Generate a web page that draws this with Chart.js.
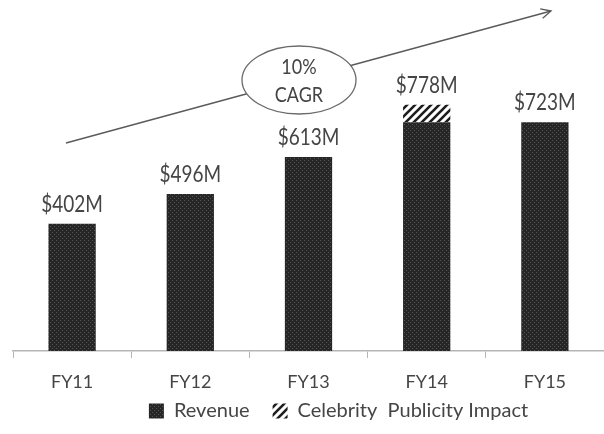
<!DOCTYPE html>
<html>
<head>
<meta charset="utf-8">
<script src="https://cdn.jsdelivr.net/npm/chart.js@4"></script>
<style>
  html, body { margin: 0; padding: 0; background: #fff; }
  #wrap { width: 604px; height: 434px; }
</style>
</head>
<body>
<div id="wrap"><canvas id="myChart" width="604" height="434"></canvas></div>
<script>
// data
var years = ['FY11', 'FY12', 'FY13', 'FY14', 'FY15'];
var revenue = [402, 496, 613, 723, 723];
var celebrity = [0, 0, 0, 55, 0];
var cagrText = ['10%', 'CAGR'];

var textColor = '#454545';

// dotted dark fill like the original
function dotPattern() {
  var c = document.createElement('canvas');
  c.width = 4; c.height = 4;
  var g = c.getContext('2d');
  g.fillStyle = '#262626';
  g.fillRect(0, 0, 4, 4);
  g.fillStyle = '#555';
  g.fillRect(0, 0, 1, 1);
  g.fillRect(2, 2, 1, 1);
  return g.createPattern(c, 'repeat');
}

// diagonal hatch
function hatchPattern() {
  var c = document.createElement('canvas');
  c.width = 8; c.height = 8;
  var g = c.getContext('2d');
  g.fillStyle = '#fff';
  g.fillRect(0, 0, 8, 8);
  g.strokeStyle = '#1e1e1e';
  g.lineWidth = 2.6;
  g.beginPath();
  g.moveTo(-2, 10); g.lineTo(10, -2);
  g.moveTo(-6, 6); g.lineTo(6, -6);
  g.moveTo(2, 14); g.lineTo(14, 2);
  g.stroke();
  return g.createPattern(c, 'repeat');
}

// text a bit taller than wide, like the source picture
function tallText(ctx, txt, x, y) {
  ctx.save();
  ctx.translate(x, y);
  ctx.scale(1, 1.18);
  ctx.fillText(txt, 0, 0);
  ctx.restore();
}

// $xxxM labels on top of each stack
var topLabels = {
  id: 'topLabels',
  afterDatasetsDraw: function (chart) {
    var ctx = chart.ctx;
    var y = chart.scales.y;
    ctx.save();
    ctx.font = '19px Lato';
    ctx.fillStyle = textColor;
    ctx.textAlign = 'center';
    ctx.textBaseline = 'alphabetic';
    var meta = chart.getDatasetMeta(0);
    for (var i = 0; i < years.length; i++) {
      var total = revenue[i] + celebrity[i];
      tallText(ctx, '$' + total + 'M', meta.data[i].x, y.getPixelForValue(total) - 12);
    }
    ctx.restore();
  }
};

// growth arrow with the CAGR bubble
var cagrArrow = {
  id: 'cagrArrow',
  afterDraw: function (chart) {
    var ctx = chart.ctx;
    var a = chart.chartArea;
    var x1 = a.left + 53, y1 = a.top + 140;
    var x2 = a.left + 538, y2 = a.top + 8;
    ctx.save();
    ctx.strokeStyle = '#5a5a5a';
    ctx.lineWidth = 1.3;
    ctx.beginPath();
    ctx.moveTo(x1, y1);
    ctx.lineTo(x2, y2);
    ctx.stroke();
    var ang = Math.atan2(y2 - y1, x2 - x1);
    ctx.beginPath();
    ctx.moveTo(x2 - 11 * Math.cos(ang - 0.45), y2 - 11 * Math.sin(ang - 0.45));
    ctx.lineTo(x2, y2);
    ctx.lineTo(x2 - 11 * Math.cos(ang + 0.45), y2 - 11 * Math.sin(ang + 0.45));
    ctx.stroke();

    var cx = a.left + 286, cy = a.top + 77;
    ctx.beginPath();
    ctx.ellipse(cx, cy, 57, 34, 0, 0, Math.PI * 2);
    ctx.fillStyle = '#fff';
    ctx.fill();
    ctx.strokeStyle = '#6a6a6a';
    ctx.stroke();
    ctx.font = '18px Lato';
    ctx.fillStyle = textColor;
    ctx.textAlign = 'center';
    ctx.textBaseline = 'middle';
    tallText(ctx, cagrText[0], cx, cy - 13);
    tallText(ctx, cagrText[1], cx, cy + 15);
    ctx.restore();
  }
};

// legend sits a little right of centre in the original
var legendShift = {
  id: 'legendShift',
  afterLayout: function (chart) {
    chart.legend.left += 26;
    chart.legend.right += 26;
  }
};

var ctx = document.getElementById('myChart').getContext('2d');
var myChart = new Chart(ctx, {
  type: 'bar',
  data: {
    labels: years,
    datasets: [{
      label: 'Revenue',
      data: revenue,
      backgroundColor: dotPattern(),
      borderWidth: 0
    }, {
      label: 'Celebrity  Publicity Impact',
      data: celebrity,
      backgroundColor: hatchPattern(),
      borderWidth: 0
    }]
  },
  options: {
    responsive: false,
    animation: false,
    layout: { padding: { top: 3, left: 13, right: -8, bottom: 3 } },
    datasets: { bar: { categoryPercentage: 1, barPercentage: 0.4 } },
    plugins: {
      tooltip: { enabled: false },
      legend: {
        position: 'bottom',
        labels: {
          font: { family: 'Lato', size: 20 },
          color: textColor,
          boxWidth: 15,
          boxHeight: 15,
          padding: 8,
          generateLabels: function (chart) {
            var items = Chart.defaults.plugins.legend.labels.generateLabels(chart);
            // wider gap after the first entry
            items[0].text = items[0].text + '\u2003';
            return items;
          }
        }
      }
    },
    scales: {
      x: {
        stacked: true,
        afterFit: function (scale) { scale.height = 42; },
        grid: { offset: true, drawOnChartArea: false, drawTicks: true, tickLength: 7, color: '#b5b5b5' },
        border: { color: '#b5b5b5', width: 1.5 },
        ticks: { font: { family: 'Lato', size: 18 }, color: textColor, padding: 13 }
      },
      y: {
        stacked: true,
        display: false,
        min: 0,
        max: 1100
      }
    }
  },
  plugins: [topLabels, cagrArrow, legendShift]
});
</script>
</body>
</html>
